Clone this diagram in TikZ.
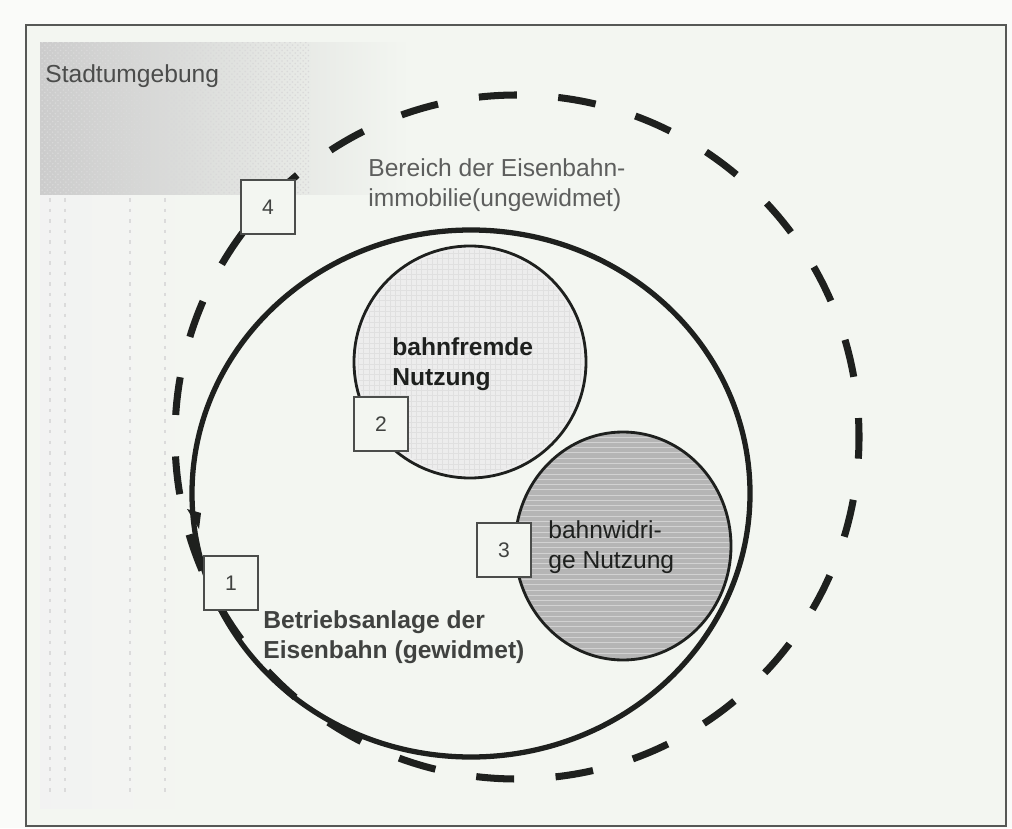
\documentclass[tikz,border=0pt]{standalone}
\usepackage{fontspec}
\setmainfont{Liberation Sans}
\usetikzlibrary{patterns}
\definecolor{paper}{RGB}{243,246,241}
\definecolor{ink}{RGB}{30,32,30}
\tikzset{
	numbox/.style={draw=ink!80, line width=1pt, fill=paper, minimum size=1.07cm, inner sep=0pt, text=ink!85, font=\fontsize{12}{14}\selectfont},
	lbl/.style={align=left, anchor=west, inner sep=0pt, text=ink, font=\fontsize{14}{17}\selectfont},
	lblb/.style={lbl, font=\fontsize{14}{17}\selectfont\bfseries},
}

\begin{document}
\begin{tikzpicture}
		%%%%% START %%%%%
		
		\useasboundingbox (0, 0) rectangle (20.24, 16.56);
		\fill[white!60!paper] (0, 0) rectangle (20.24, 16.56);
		\fill[paper] (0.52, 0.04) rectangle (20.12, 16.06);
		
		% city surroundings, scanned texture
		\shade[left color=gray!10, right color=paper] (0.8, 0.4) rectangle (3.9, 12.66);
		\foreach \x in {1.0, 1.3, 2.6, 3.3}
			\draw[gray!28, line width=0.6pt, dash pattern=on 2pt off 4pt] (\x, 12.6) -- (\x, 0.6);
		\shade[left color=gray!40, right color=paper] (0.8, 12.66) rectangle (8.2, 15.7);
		\fill[pattern=crosshatch dots, pattern color=gray!30] (0.8, 12.66) rectangle (6.2, 15.7);
		
		\draw[ink!75, line width=1.2pt] (0.52, 0.04) rectangle (20.12, 16.06);
		
		% property area (dashed) and railway installation (solid)
		\draw[ink, line width=4pt, dash pattern=on 0.76cm off 0.83cm, dash phase=0.38cm] (10.34, 7.82) circle (6.84);
		\draw[ink, line width=3pt] (9.42, 6.69) ellipse (5.58 and 5.27);
		\fill[ink] (3.74, 6.38) -- (4.02, 6.30) -- (3.98, 5.98) -- cycle;
		
		% non-railway use
		\draw[ink, line width=1.6pt, fill=gray!14] (9.40, 9.32) circle (2.32);
		\fill[pattern=grid, pattern color=gray!24] (9.40, 9.32) circle (2.25);
		
		% use contrary to railway
		\draw[ink, line width=1.6pt, fill=gray!58] (12.46, 5.64) ellipse (2.16 and 2.28);
		\fill[pattern=horizontal lines, pattern color=gray!35] (12.46, 5.64) ellipse (2.12 and 2.24);
		
		\node[numbox] (n4) at (5.36, 12.42) {4};
		\node[numbox] (n2) at (7.62, 8.08) {2};
		\node[numbox] (n3) at (10.08, 5.56) {3};
		\node[numbox] (n1) at (4.62, 4.90) {1};
		
		\node[lbl, text=ink!80] (stadt) at (0.90, 15.04) {Stadtumgebung};
		\node[lbl, text=ink!72] (bereich) at (7.36, 12.86) {Bereich der Eisenbahn-\\immobilie(ungewidmet)};
		\node[lblb] (fremd) at (7.84, 9.28) {bahnfremde\\Nutzung};
		\node[lbl] (widrig) at (10.96, 5.62) {bahnwidri-\\ge Nutzung};
		\node[lblb, text=ink!85] (anlage) at (5.26, 3.81) {Betriebsanlage der\\Eisenbahn (gewidmet)};
		
		%%%%% END %%%%%
	\end{tikzpicture}
\end{document}
